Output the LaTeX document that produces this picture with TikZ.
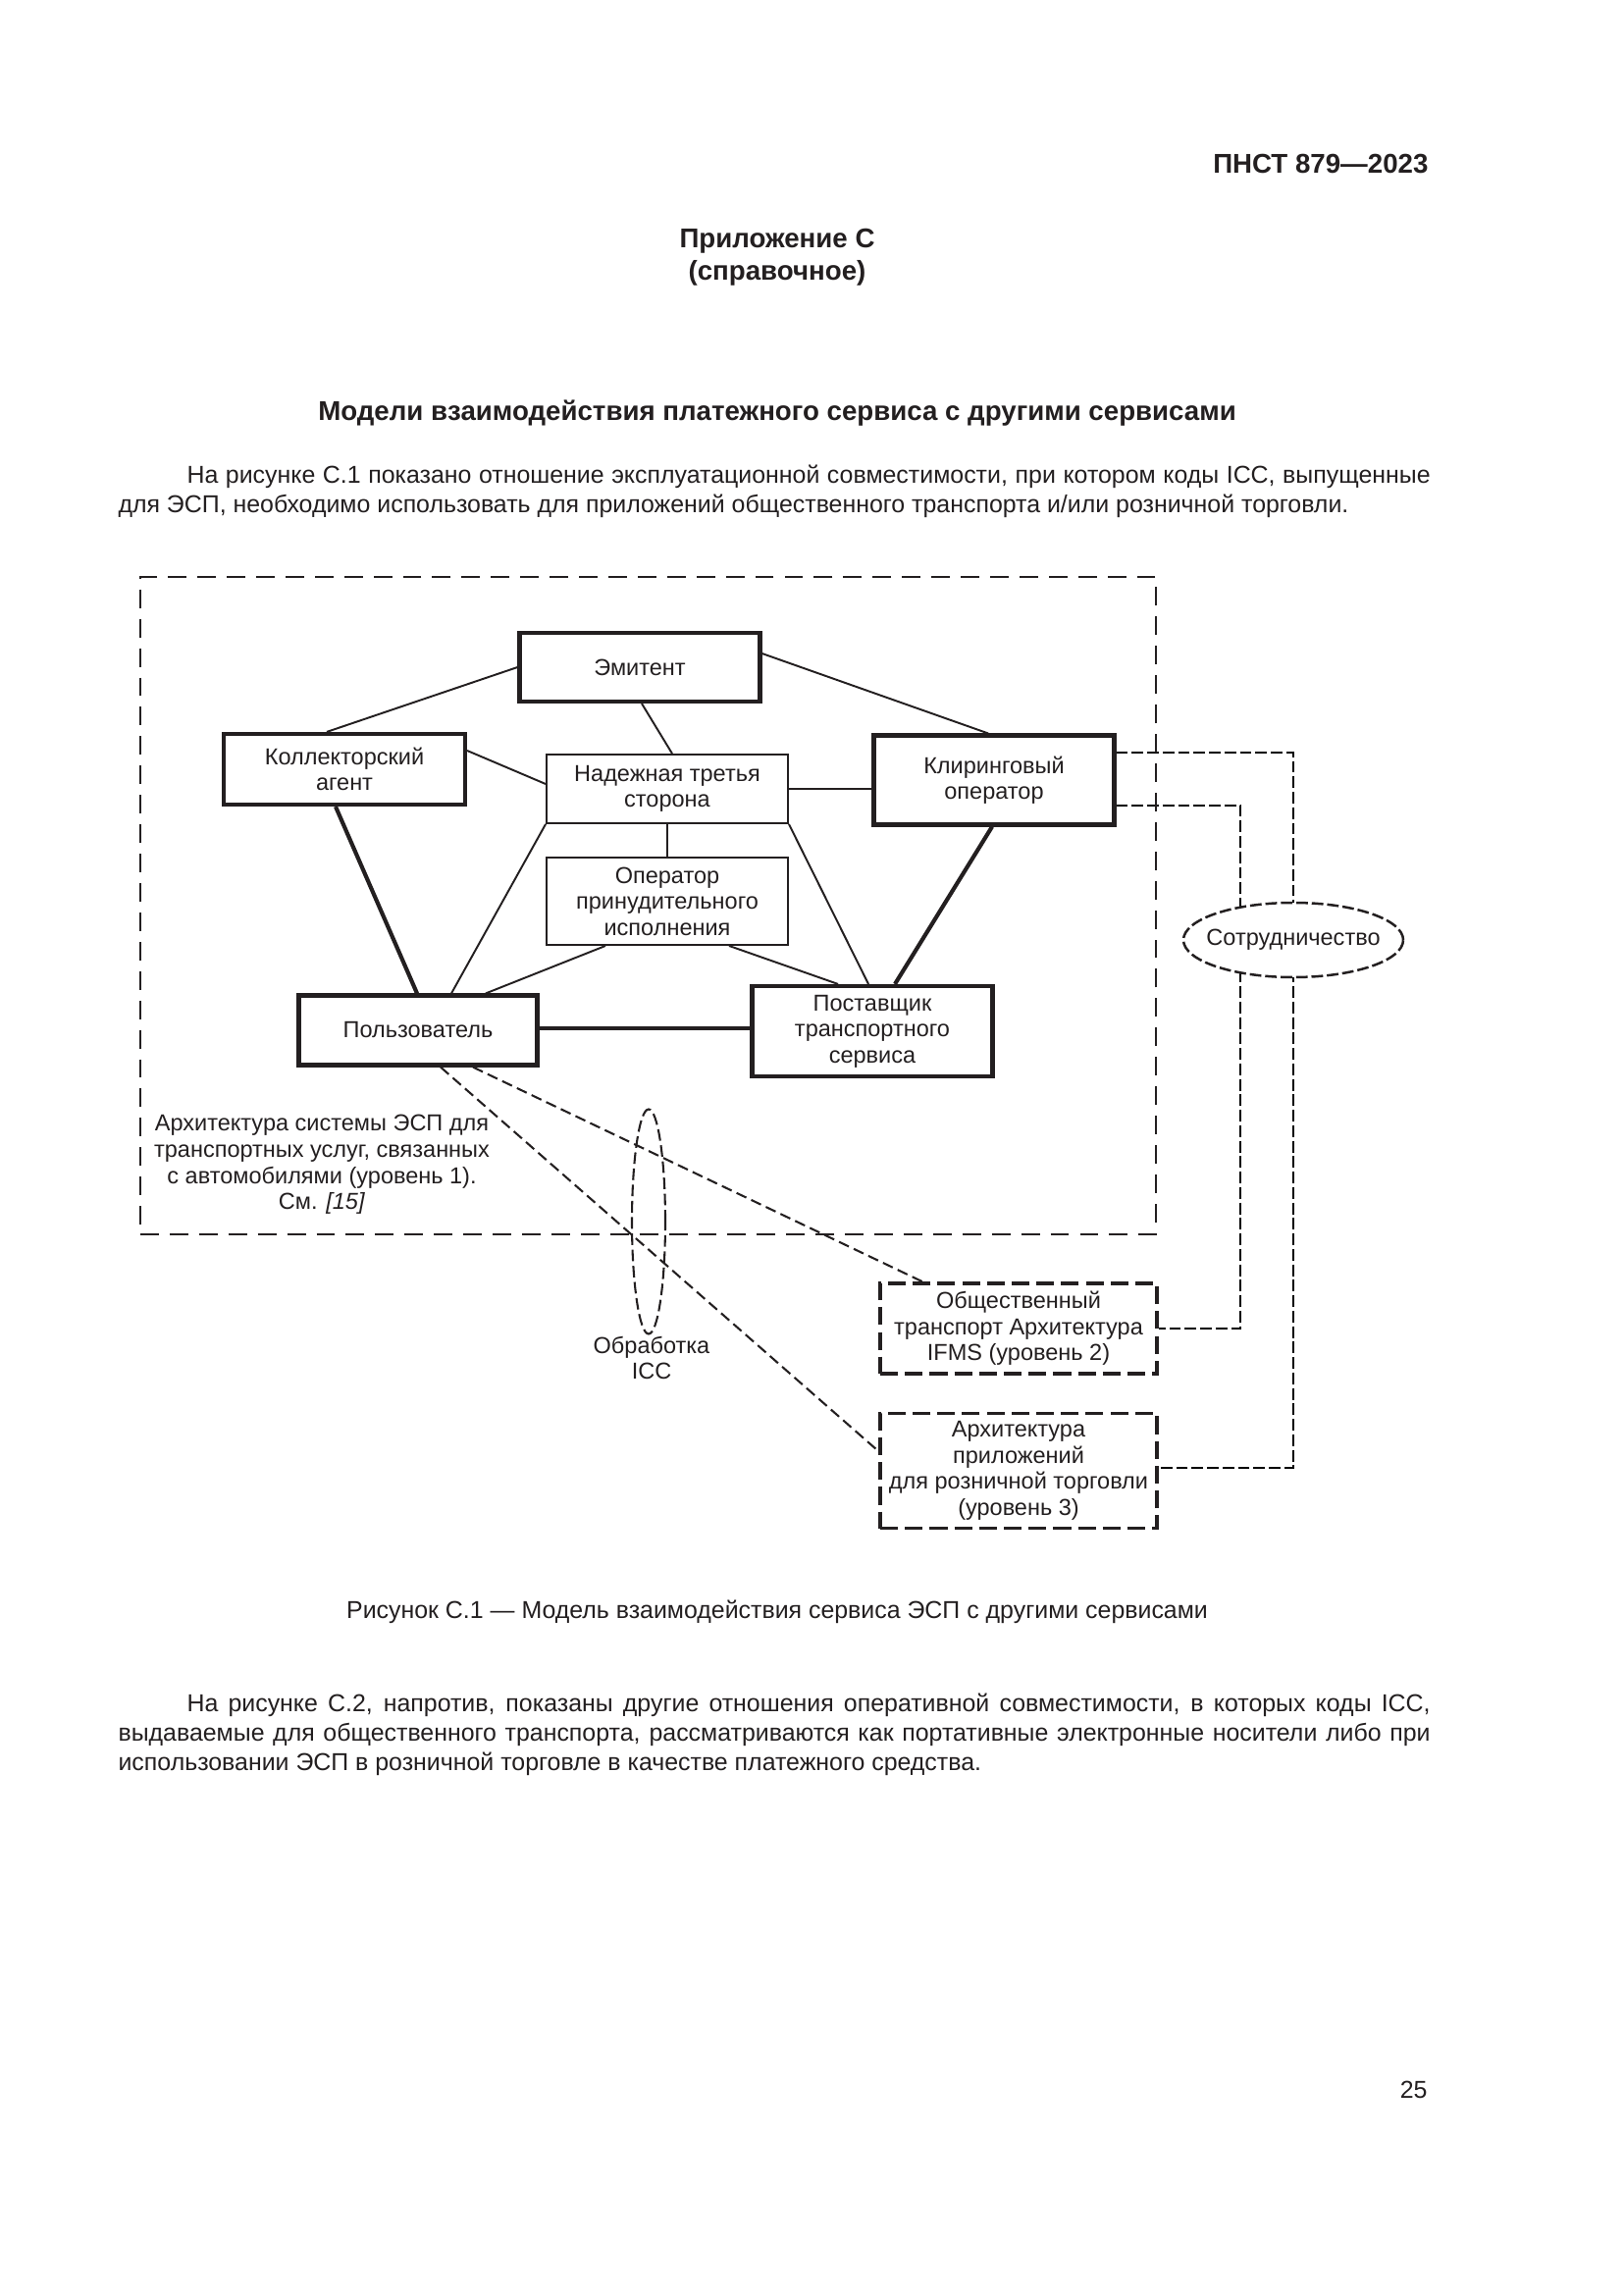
\documentclass[tikz,border=0pt]{standalone}
\usepackage{fontspec}
\setmainfont{Liberation Sans}
\usetikzlibrary{calc,shapes.geometric,backgrounds}
\definecolor{ink}{RGB}{35,31,32}
\newcommand\figfont{\fontsize{8.5}{9.6}\selectfont}
\newcommand\bodyfont{\fontsize{9}{10.8}\selectfont}
\newcommand\hdrfont{\fontsize{10}{10.8}\selectfont\bfseries}
\begin{document}
\begin{tikzpicture}[x=0.127mm,y=-0.127mm,color=ink]
\tikzset{
  bx/.style 2 args={draw, minimum width=#1*0.127mm, minimum height=#2*0.127mm,
     inner sep=0pt, align=center, font=\figfont},
  thickbox/.style={line width=1.5pt},
  thinbox/.style={line width=0.7pt},
  dashbox/.style={line width=1.3pt, dash pattern=on 2.3mm off 0.9mm},
  thinline/.style={line width=0.7pt},
  thickline/.style={line width=1.5pt},
  dline/.style={line width=0.75pt, dash pattern=on 1.4mm off 0.7mm},
  coopline/.style={line width=0.8pt, dash pattern=on 1.5mm off 0.5mm},
  body/.style={font=\bodyfont, inner sep=0pt},
  hdr/.style={font=\hdrfont, inner sep=0pt},
  lbl/.style={font=\figfont, inner sep=0pt, align=center}
}
\begin{scope}[on background layer]
\fill[white] (0,0) rectangle (1654,2339);
\end{scope}
\useasboundingbox (0,0) rectangle (1654,2339);

% header and text
\node[hdr, anchor=base east] (head) at (1456,177) {ПНСТ 879—2023};
\node[hdr, anchor=base] (app) at (792,253) {Приложение С};
\node[hdr, anchor=base] (refn) at (792,286) {(справочное)};
\node[hdr, anchor=base] (title) at (792,429) {Модели взаимодействия платежного сервиса с другими сервисами};

\node[body, anchor=base west] (p1a) at (190,493) {\makebox[160.91mm][s]{На рисунке С.1 показано отношение эксплуатационной совместимости, при котором коды ICC, выпущенные}};
\node[body, anchor=base west] (p1b) at (120,523) {для ЭСП, необходимо использовать для приложений общественного транспорта и/или розничной торговли.};

% diagram
\node[draw, line width=0.75pt, dash pattern=on 2.4mm off 1.4mm, inner sep=0pt,
      minimum width=1035*0.127mm, minimum height=670*0.127mm] (arch) at (660.5,923) {};

\node[bx={245}{70}, thickbox] (emit) at (652,680) {Эмитент};
\node[bx={246}{72}, thickbox] (coll) at (351,784) {Коллекторский\\агент};
\node[bx={246}{70}, thinbox] (ttp) at (680,804) {Надежная третья\\сторона};
\node[bx={245}{91}, thickbox] (clear) at (1013,795) {Клиринговый\\оператор};
\node[bx={246}{89}, thinbox] (enf) at (680,918.5) {Оператор\\принудительного\\исполнения};
\node[bx={243}{71}, thickbox] (user) at (426,1050) {Пользователь};
\node[bx={245}{92}, thickbox] (prov) at (889,1051) {Поставщик\\транспортного\\сервиса};

\node[lbl] (lvl1) at (328,1187) {Архитектура системы ЭСП для\\транспортных услуг, связанных\\с автомобилями (уровень 1).\\См. \textit{[15]}};

\node[bx={282}{92}, dashbox] (pt) at (1038,1354) {Общественный\\транспорт Архитектура\\IFMS (уровень 2)};
\node[bx={282}{117}, dashbox] (retail) at (1038,1499) {Архитектура\\приложений\\для розничной торговли\\(уровень 3)};

\node[draw, ellipse, line width=0.75pt, dash pattern=on 1.5mm off 0.6mm, inner sep=0pt,
      minimum width=34*0.127mm, minimum height=229*0.127mm] (icc) at (661,1245) {};
\node[lbl] (icclbl) at (664,1384) {Обработка\\ICC};

\node[draw, ellipse, fill=white, line width=0.9pt, dash pattern=on 1.5mm off 0.5mm, inner sep=0pt,
      minimum width=224*0.127mm, minimum height=76*0.127mm] (coop) at (1318,958) {};
\node[lbl] (cooplbl) at (coop.center) {Сотрудничество};

% solid connectors
\draw[thinline] (emit.west) -- ($(coll.north)+(-18,0)$);
\draw[thinline] ($(emit.east)+(0,-14)$) -- ($(clear.north)+(-6,0)$);
\draw[thinline] ($(emit.south)+(2,0)$) -- ($(ttp.north)+(5,0)$);
\draw[thinline] ($(coll.east)+(0,-19)$) -- ($(ttp.west)+(0,-5)$);
\draw[thinline] (ttp.east) -- (ttp.east -| clear.west);
\draw[thinline] (ttp.south) -- (enf.north);
\draw[thinline] (ttp.south west) -- ($(user.north)+(34,0)$);
\draw[thinline] (ttp.south east) -- ($(prov.north)+(-4,0)$);
\draw[thinline] ($(enf.south)+(-63,0)$) -- ($(user.north)+(69,0)$);
\draw[thinline] ($(enf.south)+(63,0)$) -- ($(prov.north)+(-35,0)$);
\draw[thickline] ($(coll.south)+(-9,0)$) -- ($(user.north)+(-1,0)$);
\draw[thickline] ($(clear.south)+(-2,0)$) -- ($(prov.north)+(23,0)$);
\draw[thickline] ($(user.east)+(0,-2)$) -- ($(user.east -| prov.west)+(0,-2)$);

% dashed connectors
\draw[dline] ($(user.south)+(56,0)$) -- ($(pt.north)+(-98,0)$);
\draw[dline] ($(user.south)+(23,0)$) -- ($(retail.west)+(0,-20)$);

\begin{scope}[on background layer]
\draw[coopline] ($(clear.east)+(0,-28)$) -| (coop.center);
\draw[coopline] ($(clear.east)+(0,26)$) -| ($(coop.center)+(-54,0)$);
\draw[coopline] ($(coop.center)+(-54,0)$) |- (pt.east);
\draw[coopline] (coop.center) |- ($(retail.east)+(0,-3)$);
\end{scope}

% caption and text
\node[body, anchor=base] (cap) at (792,1649) {Рисунок С.1 — Модель взаимодействия сервиса ЭСП с другими сервисами};
\node[body, anchor=base west] (p2a) at (190,1744) {\makebox[160.91mm][s]{На рисунке С.2, напротив, показаны другие отношения оперативной совместимости, в которых коды ICC,}};
\node[body, anchor=base west] (p2b) at (120,1774) {\makebox[169.80mm][s]{выдаваемые для общественного транспорта, рассматриваются как портативные электронные носители либо при}};
\node[body, anchor=base west] (p2c) at (120,1804) {использовании ЭСП в розничной торговле в качестве платежного средства.};
\node[body, anchor=base east] (pg) at (1455,2138) {25};
\end{tikzpicture}
\end{document}
